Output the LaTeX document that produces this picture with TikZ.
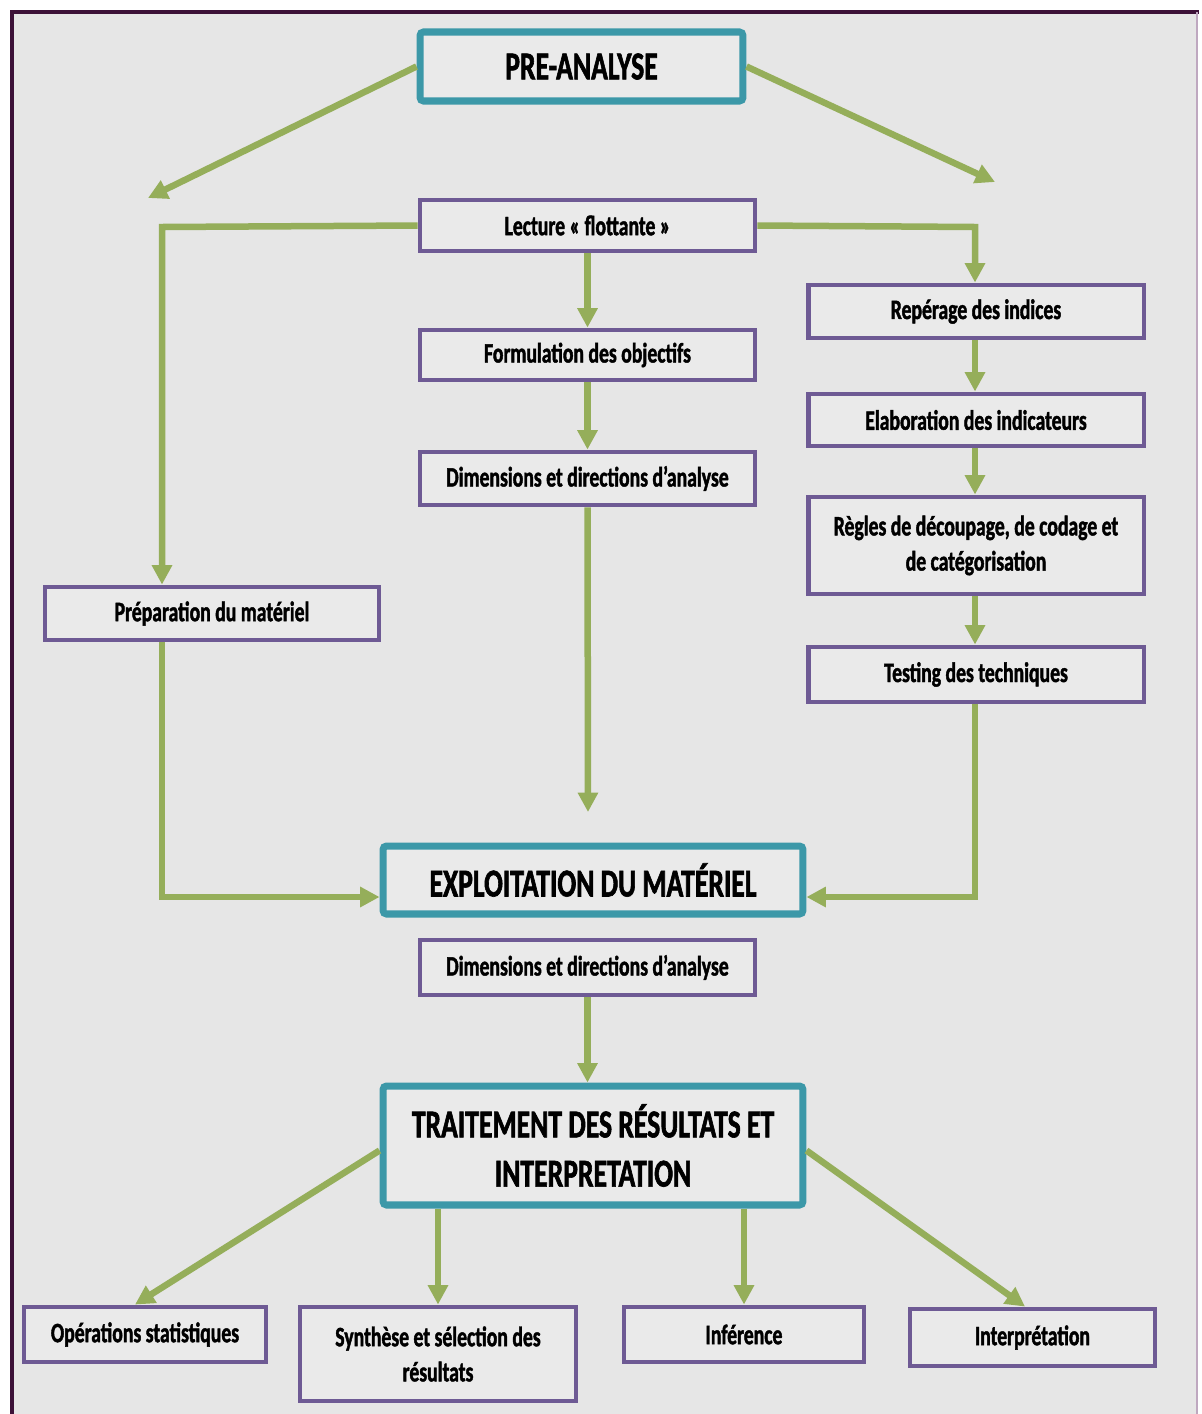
\documentclass[tikz,border=0pt]{standalone}
\usepackage{fontspec}
\setmainfont{Carlito}[FakeStretch=0.70,FakeBold=1.5]
\usetikzlibrary{arrows.meta}
\definecolor{bgc}{HTML}{E6E6E6}
\definecolor{boxfill}{HTML}{EAEAEA}
\definecolor{purp}{HTML}{6E5A94}
\definecolor{teal2}{HTML}{3C98A8}
\definecolor{grn}{HTML}{95AE5A}
\definecolor{frame}{HTML}{3D1238}
\definecolor{framer}{HTML}{BFA8C0}
\tikzset{
  smallbox/.style={draw=purp, line width=2.8pt, fill=boxfill, inner sep=0pt, align=center,
     font=\bfseries\fontsize{16}{20}\selectfont},
  bigbox/.style={draw=teal2, line width=4pt, fill=boxfill, rounded corners=2pt, inner sep=0pt, align=center,
     font=\bfseries\fontsize{22.5}{28}\selectfont},
  arr/.style={draw=grn, line width=3.7pt, -{Triangle[length=11pt,width=11pt]}},
  seg/.style={draw=grn, line width=3.7pt}
}
\begin{document}
\begin{tikzpicture}[x=0.02cm, y=-0.02cm]
\useasboundingbox (0,0) rectangle (1201,1414);
\fill[white] (0,0) rectangle (1201,1414);
\fill[bgc] (12,12) rectangle (1197,1414);
\draw[frame, line width=2.4pt] (10,12) -- (1199,12);
\draw[frame, line width=2.4pt] (12,10) -- (12,1414);
\draw[framer, line width=0.9pt] (1197,12) -- (1197,1414);

% nodes
\node[bigbox, minimum width=6.46cm, minimum height=1.38cm] (pre) at (581.5,66.5) {PRE-ANALYSE};
\node[smallbox, minimum width=6.7cm, minimum height=1.02cm] (lect) at (587.5,225.5) {Lecture « flottante »};
\node[smallbox, minimum width=6.7cm, minimum height=1.0cm] (form) at (587.5,355) {Formulation des objectifs};
\node[smallbox, minimum width=6.7cm, minimum height=1.06cm] (dim1) at (587.5,478.5) {Dimensions et directions d’analyse};
\node[smallbox, minimum width=6.72cm, minimum height=1.06cm] (rep) at (976,311.5) {Repérage des indices};
\node[smallbox, minimum width=6.72cm, minimum height=1.04cm] (elab) at (976,420) {Elaboration des indicateurs};
\node[smallbox, minimum width=6.72cm, minimum height=1.94cm] (regl) at (976,545.5) {Règles de découpage, de codage et\\de catégorisation};
\node[smallbox, minimum width=6.72cm, minimum height=1.1cm] (test) at (976,674.5) {Testing des techniques};
\node[smallbox, minimum width=6.68cm, minimum height=1.06cm] (prep) at (212,613.5) {Préparation du matériel};
\node[bigbox, minimum width=8.4cm, minimum height=1.36cm] (expl) at (593,880) {EXPLOITATION DU MATÉRIEL};
\node[smallbox, minimum width=6.7cm, minimum height=1.1cm] (dim2) at (587.5,967.5) {Dimensions et directions d’analyse};
\node[bigbox, minimum width=8.4cm, minimum height=2.38cm] (trait) at (593,1145.5) {TRAITEMENT DES RÉSULTATS ET\\INTERPRETATION};
\node[smallbox, minimum width=4.84cm, minimum height=1.1cm] (ops) at (145,1334.5) {Opérations statistiques};
\node[smallbox, minimum width=5.52cm, minimum height=1.88cm] (synth) at (438,1354) {Synthèse et sélection des\\résultats};
\node[smallbox, minimum width=4.8cm, minimum height=1.1cm] (inf) at (744,1334.5) {Inférence};
\node[smallbox, minimum width=4.9cm, minimum height=1.14cm] (interp) at (1032.5,1337.5) {Interprétation};

% free ends and corners
\coordinate (tl) at (148,198);
\coordinate (tr) at (995,182);
\coordinate (c1) at (162,227);
\coordinate (c2) at (975,227);
\coordinate (d1end) at (588,812);
\coordinate (c3) at (162,897);
\coordinate (c4) at (975,897);

% connectors
\draw[arr] (pre.west) -- (tl);
\draw[arr] (pre.east) -- (tr);
\draw[arr] (lect.west) -- (c1) -- (prep.north -| c1);
\draw[arr] (lect.east) -- (c2) -- (rep.north -| c2);
\draw[arr] (lect.south) -- (form.north);
\draw[arr] (form.south) -- (dim1.north);
\draw[arr] (dim1.south) -- (d1end);
\draw[arr] (rep.south -| c2) -- (elab.north -| c2);
\draw[arr] (elab.south -| c2) -- (regl.north -| c2);
\draw[arr] (regl.south -| c2) -- (test.north -| c2);
\draw[arr] (test.south -| c4) -- (c4) -- (expl.east |- c4);
\draw[arr] (prep.south -| c3) -- (c3) -- (expl.west |- c3);
\draw[arr] (dim2.south) -- (trait.north -| dim2.south);
\draw[arr] ([yshift=-0.1cm]trait.west) -- ([xshift=-0.2cm]ops.north);
\draw[arr] (trait.south -| synth.north) -- (synth.north);
\draw[arr] (trait.south -| inf.north) -- (inf.north);
\draw[arr] ([yshift=-0.1cm]trait.east) -- ([xshift=-0.15cm]interp.north);
\end{tikzpicture}
\end{document}
